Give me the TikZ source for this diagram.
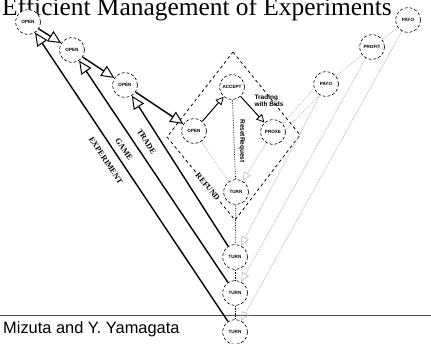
\documentclass[tikz,border=0pt]{standalone}
\usepackage{fontspec}
\newfontfamily\timesrm{Liberation Serif}
\newfontfamily\arialsf{Liberation Sans}
\usetikzlibrary{arrows.meta}

\tikzset{
  state/.style={circle, draw, fill=white, densely dashed, line width=0.6pt,
    minimum size=25pt, inner sep=0pt,
    font=\arialsf\bfseries\fontsize{4.6}{5}\selectfont},
  main/.style={line width=1.4pt, -{Triangle[open, length=13pt, width=12pt, line width=1pt]}},
  thinarrow/.style={line width=1pt, -{Triangle[open, length=8pt, width=8pt, line width=0.8pt]}},
  faint/.style={gray!55, densely dotted, line width=0.9pt,
    -{Triangle[open, length=9pt, width=8pt, line width=0.6pt]}},
  faintline/.style={gray!55, densely dotted, line width=0.8pt},
  dotline/.style={densely dotted, line width=0.7pt},
  region/.style={dashed, line width=0.8pt},
  linelabel/.style={font=\timesrm\bfseries\fontsize{8}{9}\selectfont},
  smalllabel/.style={font=\arialsf\bfseries\fontsize{6.5}{7}\selectfont}
}

\begin{document}
\begin{tikzpicture}[x=1pt, y=-1pt]
  % Page frame
  \useasboundingbox (0,0) rectangle (431,343);
  \clip (0,0) rectangle (431,343);

  % Title, rule and author line
  \node[anchor=base east, inner sep=0pt, font=\timesrm\fontsize{25.4}{28}\selectfont]
    (title) at (392,15) {Efficient Management of Experiments};
  \coordinate (rulel) at (0,315);
  \coordinate (ruler) at (431,315);
  \draw[gray!60!black, line width=0.8pt] (rulel) -- (ruler);
  \node[anchor=base west, inner sep=0pt, font=\arialsf\fontsize{16.4}{18}\selectfont]
    (author) at (3,333) {Mizuta and Y. Yamagata};

  % Corners of the trading region
  \coordinate (dtop) at (233,52);
  \coordinate (dright) at (300,135);
  \coordinate (dbot) at (235,220);
  \coordinate (dleft) at (167,137);
  \draw[region] (dtop) -- (dright) -- (dbot) -- (dleft) -- cycle;
  \path (dleft) -- node[pos=0.6, sloped, fill=white, inner sep=1pt, linelabel] {REFUND} (dbot);

  % The states
  \node[state] (open1) at (28,22) {OPEN};
  \node[state] (open2) at (72,50) {OPEN};
  \node[state] (open3) at (125,85) {OPEN};
  \node[state] (open4) at (194,131) {OPEN};
  \node[state] (accept) at (232,87) {ACCEPT};
  \node[state] (proxe) at (273,132) {PROXE};
  \node[state] (turnA) at (236,192) {TURN};
  \node[state] (turnB) at (235,257) {TURN};
  \node[state] (turnC) at (235,293) {TURN};
  \node[state] (turnD) at (235,332) {TURN};
  \node[state] (payoA) at (326,84) {PAYO};
  \node[state] (profit) at (372,47) {PROFIT};
  \node[state] (payoB) at (408,20) {PAYO};

  % Left arm
  \draw[main] (turnD) -- (open1);
  \draw[main] (turnC) -- (open2);
  \draw[main] (turnB) -- (open3);
  \path (open1) -- node[pos=0.42, sloped, below=6pt, linelabel] {EXPERIMENT} (turnD);
  \path (open2) -- node[pos=0.37, sloped, below=6pt, linelabel] {GAME} (turnC);
  \path (open3) -- node[pos=0.26, sloped, below=6pt, linelabel] {TRADE} (turnB);
  \draw[main] (open1) -- (open2);
  \draw[main] (open2) -- (open3);
  \draw[main] (open3) -- (open4);
  \draw[thinarrow] (open4) -- (accept);
  \draw[thinarrow] (accept) -- (proxe);
  \node[smalllabel, align=left] (bids) at (269,101) {Trading\\with Bids};

  % Middle column
  \draw[dotline] (accept) -- (turnA);
  \node[smalllabel, rotate=-90] (reset) at (242,141) {ResetRequest};
  \draw[faintline] (open4) -- (turnA);
  \draw[dotline] (turnA) -- (turnB);
  \draw[dotline] (turnB) -- (turnC);
  \draw[dotline] (turnC) -- (turnD);

  % Right arm
  \draw[faint] (proxe) -- (turnA);
  \draw[faint] (payoA) -- (turnB);
  \draw[faint] (profit) -- (turnC);
  \draw[faint] (payoB) -- (turnD);
  \draw[faintline] (proxe.40) -- (payoA.200);
  \draw[faintline] (proxe.10) -- (payoA.240);
  \draw[faintline] (payoA) -- (profit);
  \draw[faintline] (profit) -- (payoB);
\end{tikzpicture}
\end{document}
